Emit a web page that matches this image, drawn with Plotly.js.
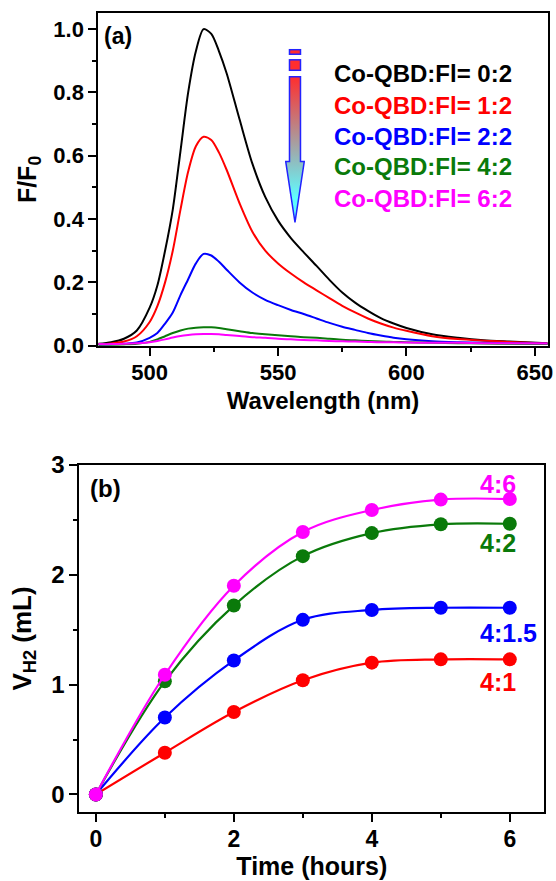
<!DOCTYPE html>
<html>
<head>
<meta charset="utf-8">
<script src="https://cdn.plot.ly/plotly-3.0.1.min.js"></script>
<style>html,body{margin:0;padding:0;background:#fff;}#chart{width:556px;height:881px;}</style>
</head>
<body>
<div id="chart"></div>
<script>
// ---------- Panel (a): fluorescence spectra ----------
const wavelength = [480,485,490,495,500,503,506,509,512,515,518,521,524,527,530,535,540,545,550,555,560,565,570,575,580,585,590,595,600,610,620,630,640,655];
const spec_0_2 = [0.006,0.011,0.022,0.048,0.12,0.19,0.30,0.43,0.615,0.80,0.93,1.00,0.985,0.93,0.86,0.715,0.575,0.47,0.395,0.34,0.295,0.252,0.208,0.168,0.136,0.11,0.087,0.07,0.056,0.036,0.025,0.017,0.013,0.008];
const spec_1_2 = [0.004,0.007,0.013,0.03,0.075,0.125,0.20,0.30,0.43,0.55,0.63,0.66,0.65,0.61,0.555,0.45,0.36,0.30,0.26,0.228,0.2,0.175,0.15,0.126,0.105,0.086,0.07,0.057,0.047,0.03,0.021,0.016,0.012,0.007];
const spec_2_2 = [0.003,0.004,0.006,0.01,0.025,0.04,0.07,0.105,0.16,0.21,0.26,0.29,0.285,0.265,0.24,0.2,0.168,0.145,0.128,0.113,0.10,0.086,0.072,0.06,0.05,0.04,0.032,0.025,0.02,0.014,0.011,0.009,0.008,0.006];
const spec_4_2 = [0.003,0.003,0.004,0.006,0.012,0.02,0.03,0.04,0.048,0.054,0.057,0.058,0.058,0.056,0.052,0.046,0.04,0.036,0.033,0.03,0.027,0.025,0.022,0.019,0.017,0.015,0.013,0.012,0.011,0.009,0.008,0.007,0.006,0.005];
const spec_6_2 = [0.005,0.005,0.006,0.008,0.011,0.015,0.02,0.026,0.031,0.034,0.036,0.037,0.037,0.036,0.034,0.031,0.027,0.025,0.022,0.02,0.018,0.017,0.015,0.014,0.013,0.012,0.011,0.011,0.01,0.009,0.009,0.008,0.008,0.007];
const specLabels = ["Co-QBD:Fl= 0:2","Co-QBD:Fl= 1:2","Co-QBD:Fl= 2:2","Co-QBD:Fl= 4:2","Co-QBD:Fl= 6:2"];
const specColors = ["#000000","#ff0000","#0000ff","#0a7a0a","#ff00ff"];
const specLabelY = [0.861,0.760,0.660,0.565,0.465];

// ---------- Panel (b): H2 evolution ----------
const timeHours = [0,1,2,3,4,5,6];
const vh2_4_1   = [0,0.38,0.75,1.04,1.20,1.23,1.23];
const vh2_4_15  = [0,0.70,1.22,1.59,1.68,1.70,1.70];
const vh2_4_2   = [0,1.03,1.72,2.17,2.38,2.46,2.465];
const vh2_4_6   = [0,1.09,1.90,2.39,2.59,2.685,2.69];
const h2Labels = ["4:1","4:1.5","4:2","4:6"];
const h2Colors = ["#ff0000","#0000ff","#0a7a0a","#ff00ff"];
const h2LabelX = [6.12,6.43,6.12,6.12];
const h2LabelY = [1.02,1.47,2.286,2.83];

const FONT = 'Arial, "Liberation Sans", Helvetica, sans-serif';

const specSeries = [spec_0_2,spec_1_2,spec_2_2,spec_4_2,spec_6_2];
const traces = [];
specSeries.forEach((s,i)=>{
  traces.push({x:wavelength,y:s,type:'scatter',mode:'lines',xaxis:'x',yaxis:'y',
    line:{color:specColors[i],width:2,shape:'spline',smoothing:0.8},name:specLabels[i],showlegend:false,hoverinfo:'skip'});
});
const h2Series = [vh2_4_1,vh2_4_15,vh2_4_2,vh2_4_6];
h2Series.forEach((s,i)=>{
  traces.push({x:timeHours,y:s,type:'scatter',mode:'lines+markers',xaxis:'x2',yaxis:'y2',
    line:{color:h2Colors[i],width:2.2,shape:'spline',smoothing:1},
    marker:{color:h2Colors[i],size:14},name:h2Labels[i],showlegend:false,hoverinfo:'skip'});
});

// layout geometry (pixels -> paper)
const ML=60, MR=8, MT=13, MB=69, W=556, H=881;
const PW=W-ML-MR, PH=H-MT-MB;
const px=(p)=>(p-ML)/PW;
const py=(p)=>(H-MB-p)/PH;

const annotations = [];
specLabels.forEach((t,i)=>{
  annotations.push({xref:'x',yref:'y',x:642,y:specLabelY[i],text:t,showarrow:false,xanchor:'right',yanchor:'middle',
    font:{family:FONT,size:24,color:specColors[i],weight:700}});
});
h2Labels.forEach((t,i)=>{
  annotations.push({xref:'x2',yref:'y2',x:h2LabelX[i],y:h2LabelY[i],text:t,showarrow:false,xanchor:'right',yanchor:'middle',
    font:{family:FONT,size:25,color:h2Colors[i],weight:700}});
});
annotations.push({xref:'x',yref:'y',x:487.5,y:0.979,text:'(a)',showarrow:false,xanchor:'center',yanchor:'middle',font:{family:FONT,size:23,color:'#000',weight:700}});
annotations.push({xref:'x2',yref:'y2',x:0.142,y:2.79,text:'(b)',showarrow:false,xanchor:'center',yanchor:'middle',font:{family:FONT,size:24,color:'#000',weight:700}});

const arrowSvg = "<svg xmlns='http://www.w3.org/2000/svg' width='20' height='175' viewBox='0 0 20 175'>"+
 "<defs><linearGradient id='g' gradientUnits='userSpaceOnUse' x1='0' y1='28' x2='0' y2='150'>"+
 "<stop offset='0' stop-color='#ff2e2e'/><stop offset='1' stop-color='#5ffcff'/></linearGradient></defs>"+
 "<rect x='4.5' y='0.8' width='11' height='4.6' fill='#ff2e2e' stroke='#2222ff' stroke-width='1.5'/>"+
 "<rect x='4.5' y='11' width='11' height='10.5' fill='#ff2e2e' stroke='#2222ff' stroke-width='1.5'/>"+
 "<path d='M4.5,28 H15.5 V113 H19.3 L10,174 L0.7,113 H4.5 Z' fill='url(#g)' stroke='#2222ff' stroke-width='1.5'/></svg>";

const axisCommon = {showgrid:false,zeroline:false,showline:true,mirror:true,linecolor:'#000',linewidth:2,
  ticks:'outside',tickcolor:'#000',tickwidth:2,ticklen:8};

const layout = {
  width:W,height:H,paper_bgcolor:'#fff',plot_bgcolor:'#fff',showlegend:false,
  margin:{l:ML,r:MR,t:MT,b:MB,pad:0},
  xaxis:Object.assign({},axisCommon,{domain:[px(98.3),px(547.7)],anchor:'y',range:[480,655],tickvals:[500,550,600,650],
    minor:{tickvals:[525,575,625],ticks:'outside',ticklen:4,tickcolor:'#000',tickwidth:2},
    tickfont:{family:FONT,size:22,color:'#000',weight:700},ticklabelstandoff:-2,
    title:{text:'Wavelength (nm)',font:{family:FONT,size:24,color:'#000',weight:700},standoff:8}}),
  yaxis:Object.assign({},axisCommon,{domain:[py(345.7),Math.min(1,py(13.3))],anchor:'x',range:[0,1.05],tickvals:[0,0.2,0.4,0.6,0.8,1.0],ticktext:['0.0','0.2','0.4','0.6','0.8','1.0'],
    minor:{tickvals:[0.1,0.3,0.5,0.7,0.9],ticks:'outside',ticklen:4,tickcolor:'#000',tickwidth:2},
    tickfont:{family:FONT,size:22,color:'#000',weight:700},
    title:{text:'F/F<sub>0</sub>',font:{family:FONT,size:25,color:'#000',weight:700},standoff:10}}),
  xaxis2:Object.assign({},axisCommon,{domain:[px(79.3),px(544.3)],anchor:'y2',range:[-0.24,6.5],tickvals:[0,2,4,6],
    minor:{tickvals:[1,3,5],ticks:'outside',ticklen:4,tickcolor:'#000',tickwidth:2},
    tickfont:{family:FONT,size:23,color:'#000',weight:700},ticklabelstandoff:-3,
    title:{text:'Time (hours)',font:{family:FONT,size:25,color:'#000',weight:700},standoff:6}}),
  yaxis2:Object.assign({},axisCommon,{domain:[Math.max(0,py(812.3)),py(465)],anchor:'x2',range:[-0.16,3],tickvals:[0,1,2,3],
    minor:{tickvals:[0.5,1.5,2.5],ticks:'outside',ticklen:4,tickcolor:'#000',tickwidth:2},
    tickfont:{family:FONT,size:24,color:'#000',weight:700},
    title:{text:'V<sub>H2</sub> (mL)',font:{family:FONT,size:26,color:'#000',weight:700},standoff:12}}),
  annotations:annotations,
  images:[{source:'data:image/svg+xml;charset=utf-8,'+encodeURIComponent(arrowSvg),xref:'x',yref:'y',
    x:552.7,y:0.9377,sizex:7.79,sizey:0.551,sizing:'stretch',xanchor:'left',yanchor:'top',layer:'above'}]
};

Plotly.newPlot('chart',traces,layout,{staticPlot:true,displayModeBar:false});
</script>
</body>
</html>
